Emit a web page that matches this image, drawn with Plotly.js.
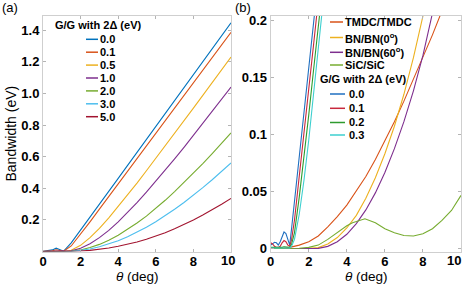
<!DOCTYPE html>
<html><head><meta charset="utf-8">
<script src="https://cdn.plot.ly/plotly-3.0.1.min.js"></script>
<style>html,body{margin:0;padding:0;background:#fff}</style>
</head><body>
<div id="chart" style="width:463px;height:284px"></div>
<script>
// ---------------- data: panel (a) ----------------
const thetaA = [0,0.25,0.5,0.7,0.9,1.1,1.5,2,2.5,3,3.5,4,4.5,5,5.5,6,6.5,7,7.5,8,8.5,9,9.5,10];
const gapNamesA = ['0.0','0.1','0.5','1.0','2.0','3.0','5.0'];
const gap00 = [0.002,0.004,0.010,0.021,0.012,0.002,0.055,0.135,0.217,0.299,0.381,0.463,0.545,0.627,0.709,0.791,0.873,0.955,1.037,1.119,1.201,1.283,1.365,1.447];
const gap01 = [0.001,0.002,0.005,0.011,0.007,0.002,0.035,0.108,0.188,0.268,0.348,0.428,0.508,0.588,0.668,0.748,0.828,0.907,0.987,1.067,1.147,1.227,1.307,1.386];
const gap05 = [0,0,0,0,0,0,0.008,0.039,0.088,0.147,0.213,0.284,0.358,0.433,0.511,0.589,0.667,0.747,0.827,0.907,0.988,1.068,1.149,1.230];
const gap10 = [0,0,0,0,0,0,0.004,0.021,0.049,0.088,0.134,0.188,0.246,0.309,0.375,0.443,0.514,0.586,0.659,0.734,0.810,0.886,0.963,1.040];
const gap20 = [0,0,0,0,0,0,0.002,0.010,0.025,0.045,0.071,0.103,0.139,0.180,0.224,0.273,0.324,0.379,0.436,0.495,0.556,0.619,0.684,0.750];
const gap30 = [0,0,0,0,0,0,0.001,0.007,0.016,0.030,0.047,0.068,0.093,0.122,0.153,0.188,0.226,0.267,0.310,0.356,0.404,0.454,0.506,0.560];
const gap50 = [0,0,0,0,0,0,0.001,0.003,0.007,0.014,0.022,0.033,0.045,0.060,0.077,0.097,0.119,0.144,0.171,0.200,0.231,0.264,0.299,0.336];
const colorsA = ['#0072BD','#D95319','#EDB120','#7E2F8E','#77AC30','#4DBEEE','#A2142F'];

// ---------------- data: panel (b) ----------------
const thetaB = [0,0.5,1,1.5,2,2.5,3,3.5,4,4.5,5,5.5,6,6.5,7,7.5,8,8.5,9,9.5,10];
const tmdc  = [0,0,0.001,0.003,0.006,0.011,0.019,0.028,0.038,0.050,0.063,0.078,0.094,0.111,0.129,0.148,0.167,0.187,0.208,0.230,0.253];
const bn0   = [0,0,0,0,0.0002,0.0008,0.004,0.0096,0.018,0.029,0.044,0.062,0.083,0.107,0.135,0.167,0.200,0.240,0.280,0.320,0.360];
const bn60  = [0,0,0,0,0,0.0001,0.0019,0.0059,0.0125,0.0218,0.0338,0.0487,0.0665,0.0874,0.111,0.138,0.169,0.202,0.240,0.280,0.320];
const thetaSiC = [0,0.5,1,1.5,2,2.5,3,3.5,4,4.3,4.6,4.95,5.5,6,6.5,7,7.5,8,8.5,9,9.5,10];
const sic   = [0,0,0,0.0003,0.001,0.003,0.008,0.014,0.020,0.0225,0.024,0.026,0.0225,0.0173,0.0138,0.0114,0.0110,0.0129,0.0173,0.0246,0.0333,0.0465];
const matNames = ['TMDC/TMDC','BN/BN(0<sup>o</sup>)','BN/BN(60<sup>o</sup>)','SiC/SiC'];
const matColors = ['#D95319','#EDB120','#7E2F8E','#77AC30'];

const thetaG = [0,0.1,0.2,0.3,0.4,0.5,0.6,0.7,0.8,0.9,1.0,1.1,1.25,1.5,1.75,2.0,2.25,2.5,2.75,3.0];
const gg00 = [0.003,0.004,0.0055,0.005,0.003,0.006,0.011,0.0145,0.013,0.007,0.003,0.018,0.042,0.082,0.121,0.160,0.198,0.236,0.270,0.310];
const gg01 = [0.005,0.004,0.002,0.001,0.001,0.002,0.005,0.007,0.006,0.003,0.002,0.008,0.025,0.062,0.100,0.139,0.178,0.217,0.255,0.290];
const gg02 = [0.001,0.001,0.0008,0.0007,0.0006,0.0008,0.001,0.0015,0.0015,0.001,0.001,0.004,0.014,0.045,0.080,0.117,0.156,0.195,0.235,0.270];
const gg03 = [0.0005,0.0005,0.0005,0.0005,0.0005,0.0005,0.0005,0.0007,0.0007,0.0006,0.0005,0.002,0.008,0.030,0.060,0.095,0.135,0.175,0.215,0.255];
const ggNames = ['0.0','0.1','0.2','0.3'];
const ggColors = ['#1F6FC0','#C8283C','#2E9B2E','#3CCFCF'];

// tick labels
const xTicks = [0,2,4,6,8];
const xTickText = ['0','2','4','6','8'];
const lastXLabel = '10';
const yTicksA = [0.2,0.4,0.6,0.8,1.0,1.2,1.4];
const yTickTextA = ['0.2','0.4','0.6','0.8','1.0','1.2','1.4'];
const yTicksB = [0,0.05,0.1,0.15,0.2];
const yTickTextB = ['0','0.05','0.1','0.15','0.2'];

// ---------------- build ----------------
const W = 463, H = 284;
const px = x => x / W, py = y => 1 - y / H;
const LW = 1.1;
const traces = [];
const seriesA = [gap00,gap01,gap05,gap10,gap20,gap30,gap50];
seriesA.forEach((s,i) => traces.push({x:thetaA, y:s, type:'scatter', mode:'lines', name:gapNamesA[i],
  line:{color:colorsA[i], width:LW}, xaxis:'x', yaxis:'y', hoverinfo:'skip'}));
const matSeries = [[thetaB,tmdc],[thetaB,bn0],[thetaB,bn60],[thetaSiC,sic]];
matSeries.forEach((s,i) => traces.push({x:s[0], y:s[1], type:'scatter', mode:'lines', name:matNames[i],
  line:{color:matColors[i], width:LW}, xaxis:'x2', yaxis:'y2', hoverinfo:'skip'}));
[gg00,gg01,gg02,gg03].forEach((s,i) => traces.push({x:thetaG, y:s, type:'scatter', mode:'lines', name:ggNames[i],
  line:{color:ggColors[i], width:LW}, xaxis:'x2', yaxis:'y2', hoverinfo:'skip'}));

const tickFont = {family:'Liberation Sans, Arial, sans-serif', size:13, color:'#000', weight:'bold'};
const axCommon = {ticks:'inside', ticklen:3, tickcolor:'#b4b4b4', tickwidth:1, showline:true, linecolor:'#cfcfcf',
  linewidth:1, mirror:'ticks', showgrid:false, zeroline:false, tickfont:tickFont, fixedrange:true};

const ann = [];
const shapes = [];
const legFont = {family:'Liberation Sans, Arial, sans-serif', size:11, color:'#000', weight:'bold'};
function legTitle(x, y, text){ ann.push({xref:'paper', yref:'paper', x:px(x), y:py(y), xanchor:'left', yanchor:'middle',
  text:text, showarrow:false, font:legFont, borderpad:0}); }
function legItem(x0, x1, xt, y, text, color){
  shapes.push({type:'line', xref:'paper', yref:'paper', x0:px(x0), x1:px(x1), y0:py(y), y1:py(y), line:{color:color, width:1.5}});
  ann.push({xref:'paper', yref:'paper', x:px(xt), y:py(y), xanchor:'left', yanchor:'middle', text:text, showarrow:false, font:legFont, borderpad:0});
}
// legend (a)
legTitle(54, 25, 'G/G with 2Δ (eV)');
const rowsA = [39.3,52.2,65.1,78,90.9,103.8,116.7];
gapNamesA.forEach((n,i) => legItem(86, 98, 98.5, rowsA[i], n, colorsA[i]));
// legend (b)
const rowsM = [22,37.5,52.3,65];
matNames.forEach((n,i) => legItem(330, 343, 344, rowsM[i], n, matColors[i]));
legTitle(319, 78.5, 'G/G with 2Δ (eV)');
const rowsG = [94,108.3,122.5,135];
ggNames.forEach((n,i) => legItem(330, 345, 347.5, rowsG[i], n, ggColors[i]));

// last x tick labels (pulled inside like the reference)
ann.push({xref:'paper', yref:'paper', x:px(228), y:py(260), xanchor:'center', yanchor:'middle', text:lastXLabel, showarrow:false, font:tickFont, borderpad:0});
ann.push({xref:'paper', yref:'paper', x:px(462), y:py(260), xanchor:'right', yanchor:'middle', text:lastXLabel, showarrow:false, font:tickFont, borderpad:0});

// panel labels and axis titles
const lblFont = {family:'Liberation Sans, Arial, sans-serif', size:13, color:'#000'};
ann.push({xref:'paper', yref:'paper', x:px(1), y:py(7.5), xanchor:'left', yanchor:'middle', text:'(a)', showarrow:false, font:lblFont, borderpad:0});
ann.push({xref:'paper', yref:'paper', x:px(234), y:py(7.5), xanchor:'left', yanchor:'middle', text:'(b)', showarrow:false, font:lblFont, borderpad:0});
const titFont = {family:'Liberation Sans, Arial, sans-serif', size:14, color:'#000'};
const xtitFont = {family:'Liberation Sans, Arial, sans-serif', size:13.5, color:'#000'};
const thetaTxt = '<i>θ</i> (deg)';
ann.push({xref:'paper', yref:'paper', x:px(137), y:py(276.5), xanchor:'center', yanchor:'middle', text:thetaTxt, showarrow:false, font:xtitFont, borderpad:0});
ann.push({xref:'paper', yref:'paper', x:px(366), y:py(276.5), xanchor:'center', yanchor:'middle', text:thetaTxt, showarrow:false, font:xtitFont, borderpad:0});
ann.push({xref:'paper', yref:'paper', x:px(10.5), y:py(134), xanchor:'center', yanchor:'middle', text:'Bandwidth (eV)', textangle:-90, showarrow:false, font:titFont, borderpad:0});

const xTickLift = {ticklabelstandoff:-2};
const layout = {
  width:W, height:H, margin:{l:0, r:0, t:0, b:0}, paper_bgcolor:'#fff', plot_bgcolor:'#fff', showlegend:false,
  xaxis: Object.assign({}, axCommon, xTickLift, {domain:[px(43), px(231)], range:[0,10], tickvals:xTicks, ticktext:xTickText, anchor:'y'}),
  yaxis: Object.assign({}, axCommon, {domain:[py(251.5), py(16)], range:[0,1.49], tickvals:yTicksA, ticktext:yTickTextA, anchor:'x'}),
  xaxis2: Object.assign({}, axCommon, xTickLift, {domain:[px(270.7), px(461)], range:[0,10], tickvals:xTicks, ticktext:xTickText, anchor:'y2'}),
  yaxis2: Object.assign({}, axCommon, {domain:[py(251.5), py(16)], range:[-0.0026,0.2035], tickvals:yTicksB, ticktext:yTickTextB, anchor:'x2'}),
  annotations: ann, shapes: shapes
};
Plotly.newPlot('chart', traces, layout, {staticPlot:true, displayModeBar:false});
</script>
</body></html>
